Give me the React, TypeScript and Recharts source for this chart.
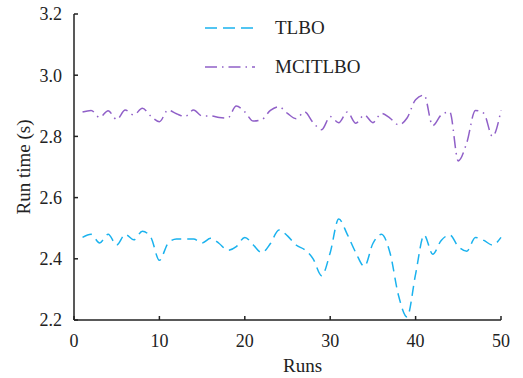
import { LineChart, Line, XAxis, YAxis } from 'recharts';

const runs = [
  1, 2, 3, 4, 5, 6, 7, 8, 9, 10, 11, 12, 13, 14, 15, 16, 17, 18, 19, 20, 21, 22, 23, 24, 25,
  26, 27, 28, 29, 30, 31, 32, 33, 34, 35, 36, 37, 38, 39, 40, 41, 42, 43, 44, 45, 46, 47, 48, 49, 50,
];

const tlbo = [
  2.47, 2.48, 2.452, 2.48, 2.445, 2.48, 2.462, 2.49, 2.47, 2.395,
  2.45, 2.465, 2.465, 2.465, 2.452, 2.467, 2.45, 2.428, 2.44, 2.47,
  2.445, 2.42, 2.45, 2.494, 2.475, 2.445, 2.43, 2.4, 2.345, 2.42,
  2.53, 2.48, 2.42, 2.375, 2.45, 2.48, 2.42, 2.28, 2.21, 2.35,
  2.478, 2.415, 2.46, 2.478, 2.44, 2.425, 2.47, 2.46, 2.445, 2.47,
];

const mcitlbo = [
  2.88, 2.885, 2.862, 2.884, 2.855, 2.886, 2.87, 2.892, 2.866, 2.848,
  2.886, 2.874, 2.865, 2.886, 2.867, 2.867, 2.862, 2.86, 2.899, 2.88,
  2.85, 2.855, 2.885, 2.897, 2.875, 2.858, 2.88, 2.845, 2.822, 2.865,
  2.845, 2.88, 2.843, 2.87, 2.845, 2.875, 2.86, 2.838, 2.86, 2.92,
  2.935, 2.835, 2.87, 2.88, 2.72, 2.78, 2.885, 2.875, 2.8, 2.885,
];

const xTicks = [0, 10, 20, 30, 40, 50];
const yTicks = [2.2, 2.4, 2.6, 2.8, 3.0, 3.2];

const data = runs.map((r, i) => ({ run: r, tlbo: tlbo[i], mcitlbo: mcitlbo[i] }));

const FONT = '"Liberation Serif", "Times New Roman", serif';
const AXIS = '#222';
const BLUE = '#1ab2ee';
const PURPLE = '#9060c8';

const legendItems = [
  { name: 'TLBO', color: BLUE, dash: '12 6' },
  { name: 'MCITLBO', color: PURPLE, dash: '12 5 1.5 5' },
];

export default function App() {
  return (
    <div style={{ position: 'absolute', left: 0, top: 0, width: 523, height: 378, background: '#fff', fontFamily: FONT }}>
      <LineChart width={523} height={378} data={data} margin={{ top: 14, right: 22, bottom: 8, left: 0 }}>
        <XAxis
          dataKey="run"
          type="number"
          domain={[0, 50]}
          ticks={xTicks}
          tickSize={-4}
          tickMargin={18}
          tick={{ fontFamily: FONT, fontSize: 18, fill: '#222' }}
          tickLine={{ stroke: AXIS, strokeWidth: 1.5 }}
          height={50}
          stroke={AXIS}
          strokeWidth={1.5}
          label={{
            content: (p: any) => {
              const vb = p.viewBox;
              return (
                <text x={vb.x + vb.width / 2 + 15} y={vb.y + 52} textAnchor="middle" fontFamily={FONT} fontSize={19} fill="#222">
                  Runs
                </text>
              );
            },
          }}
        />
        <YAxis
          type="number"
          domain={[2.2, 3.2]}
          ticks={yTicks}
          tickSize={-4}
          tickMargin={16}
          tickFormatter={(v: number) => v.toFixed(1)}
          tick={{ fontFamily: FONT, fontSize: 18, fill: '#222' }}
          tickLine={{ stroke: AXIS, strokeWidth: 1.5 }}
          width={74}
          stroke={AXIS}
          strokeWidth={1.5}
          label={{
            content: (p: any) => {
              const vb = p.viewBox;
              const cx = vb.x + 23;
              const cy = vb.y + vb.height / 2;
              return (
                <text x={cx} y={cy} dy="0.35em" textAnchor="middle" transform={`rotate(-90 ${cx} ${cy})`} fontFamily={FONT} fontSize={19} fill="#222">
                  Run time (s)
                </text>
              );
            },
          }}
        />
        <Line type="monotone" dataKey="tlbo" name="TLBO" stroke={BLUE} strokeWidth={1.5} strokeDasharray="10 6" dot={false} isAnimationActive={false} />
        <Line type="monotone" dataKey="mcitlbo" name="MCITLBO" stroke={PURPLE} strokeWidth={1.5} strokeDasharray="12 5 1.5 5" dot={false} isAnimationActive={false} />
      </LineChart>
      <div style={{ position: 'absolute', left: 205, top: 8, fontSize: 19, color: '#222' }}>
        {legendItems.map((it) => (
          <div key={it.name} style={{ display: 'flex', alignItems: 'center', height: 39 }}>
            <svg width={50} height={10} style={{ marginRight: 20 }}>
              <line x1={0} x2={50} y1={5} y2={5} stroke={it.color} strokeWidth={1.5} strokeDasharray={it.dash} />
            </svg>
            <span>{it.name}</span>
          </div>
        ))}
      </div>
    </div>
  );
}
